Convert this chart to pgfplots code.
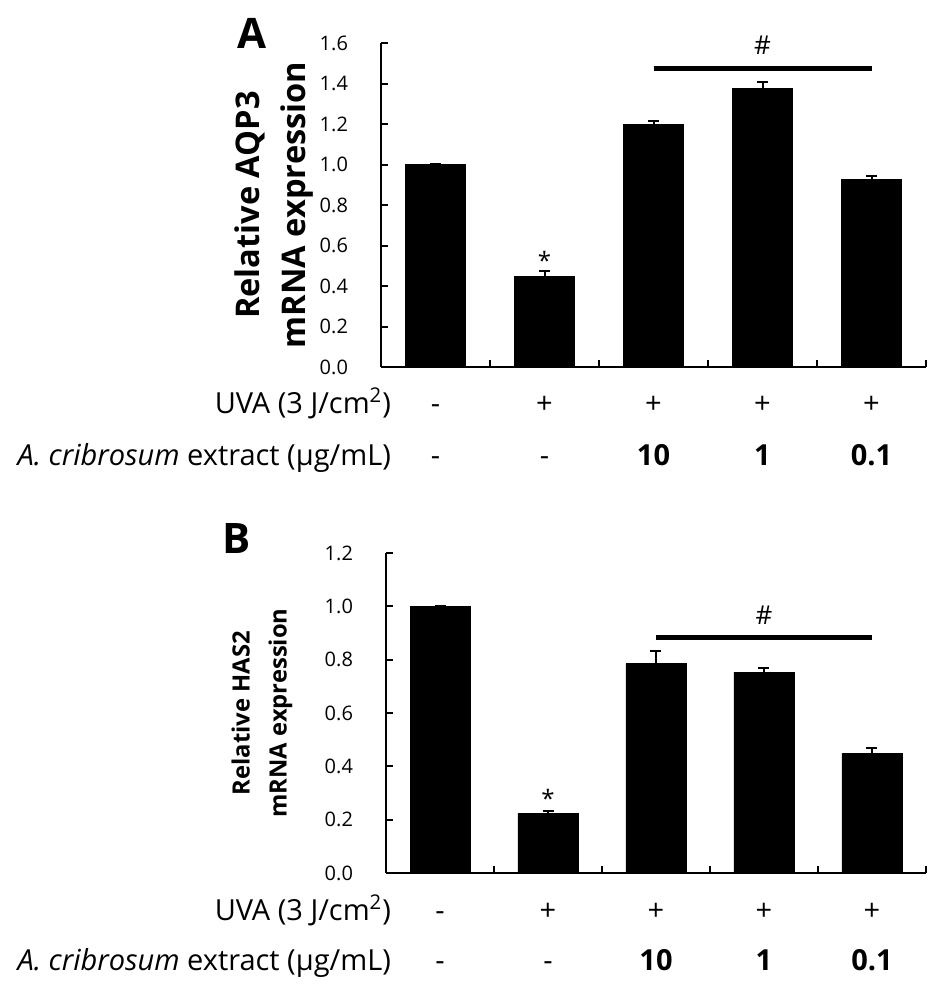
\documentclass[border=0pt]{standalone}
\usepackage{fontspec}
\setmainfont{Open Sans}
\usepackage{pgfplots}
\usepackage{pgfplotstable}
\pgfplotsset{compat=1.18}

% mean and SEM
\pgfplotstableread{
x y e
1 1.000 0.004
2 0.446 0.027
3 1.198 0.015
4 1.375 0.033
5 0.927 0.015
}\aqp
\pgfplotstableread{
x y e
1 1.000 0.003
2 0.223 0.010
3 0.785 0.048
4 0.753 0.015
5 0.448 0.022
}\has

\newcommand\rowfont{\fontsize{14.5}{16}\selectfont}
\newcommand\ticks{\fontsize{10}{11}\selectfont}

\tikzset{val/.style={anchor=base, font=\rowfont}}
\pgfplotsset{
  panel/.style={
    scale only axis,
    ybar, bar width=30pt,
    xmin=0.5, xmax=5.5, ymin=0,
    axis x line=bottom, axis y line=left,
    axis line style={-, line width=1.2pt},
    xtick={1.5,2.5,3.5,4.5,5.5}, xticklabels={},
    tick align=inside, major tick length=3.5pt,
    tick style={line width=1pt, black},
    yticklabel style={font=\ticks, xshift=-13pt},
    /pgf/number format/.cd, fixed, fixed zerofill, precision=1, assume math mode=true,
    /pgfplots/.cd,
    clip=false,
  },
  bars/.style={fill=black, draw=black,
    error bars/.cd, y dir=plus, y explicit,
    error bar style={line width=1pt, black},
    error mark options={rotate=90, mark size=2.75pt, line width=1pt, black}},
}

\begin{document}
\begin{tikzpicture}
\useasboundingbox (0,0) rectangle (471.5pt,-493.5pt);

% ---- panel A
\begin{axis}[panel, at={(190.5pt,-183.5pt)}, anchor=south west,
    width=272.5pt, height=162pt, ymax=1.6, ytick={0,0.2,...,1.6}]
  \addplot[bars] table[x=x, y=y, y error=e] {\aqp};
  \addplot[black, line width=2.25pt, forget plot, sharp plot] coordinates {(3,1.473) (5,1.473)};
  \node[font=\fontsize{13}{13}\selectfont] at (axis cs:4,1.59) {\#};
  \node[font=\fontsize{12}{12}\selectfont] at (axis cs:2,0.525) {*};
  \node[val, yshift=-23pt] at (axis cs:1,0) {-};
  \node[val, yshift=-23pt] at (axis cs:2,0) {+};
  \node[val, yshift=-23pt] at (axis cs:3,0) {+};
  \node[val, yshift=-23pt] at (axis cs:4,0) {+};
  \node[val, yshift=-23pt] at (axis cs:5,0) {+};
  \node[val, yshift=-49pt] at (axis cs:1,0) {-};
  \node[val, yshift=-49pt] at (axis cs:2,0) {-};
  \node[val, yshift=-49pt, font=\rowfont\bfseries] at (axis cs:3,0) {10};
  \node[val, yshift=-49pt, font=\rowfont\bfseries] at (axis cs:4,0) {1};
  \node[val, yshift=-49pt, font=\rowfont\bfseries] at (axis cs:5,0) {0.1};
\end{axis}

% ---- panel B
\begin{axis}[panel, at={(193pt,-436.5pt)}, anchor=south west,
    width=270pt, height=160pt, ymax=1.2, ytick={0,0.2,...,1.2}]
  \addplot[bars] table[x=x, y=y, y error=e] {\has};
  \addplot[black, line width=2.25pt, forget plot, sharp plot] coordinates {(3,0.8825) (5,0.8825)};
  \node[font=\fontsize{13}{13}\selectfont] at (axis cs:4,0.9675) {\#};
  \node[font=\fontsize{12}{12}\selectfont] at (axis cs:2,0.28) {*};
  \node[val, yshift=-23.5pt] at (axis cs:1,0) {-};
  \node[val, yshift=-23.5pt] at (axis cs:2,0) {+};
  \node[val, yshift=-23.5pt] at (axis cs:3,0) {+};
  \node[val, yshift=-23.5pt] at (axis cs:4,0) {+};
  \node[val, yshift=-23.5pt] at (axis cs:5,0) {+};
  \node[val, yshift=-48.5pt] at (axis cs:1,0) {-};
  \node[val, yshift=-48.5pt] at (axis cs:2,0) {-};
  \node[val, yshift=-48.5pt, font=\rowfont\bfseries] at (axis cs:3,0) {10};
  \node[val, yshift=-48.5pt, font=\rowfont\bfseries] at (axis cs:4,0) {1};
  \node[val, yshift=-48.5pt, font=\rowfont\bfseries] at (axis cs:5,0) {0.1};
\end{axis}

% y labels, panel letters and row captions
\node[rotate=90, align=center, font=\bfseries\fontsize{16.3}{23}\selectfont]
  at (137pt,-102.5pt) {Relative AQP3\\mRNA expression};
\node[rotate=90, align=center, font=\bfseries\fontsize{11.9}{18.5}\selectfont]
  at (131pt,-356.5pt) {Relative HAS2\\mRNA expression};
\node[anchor=base west, inner sep=0, font=\bfseries\fontsize{21}{21}\selectfont] at (118.5pt,-24pt) {A};
\node[anchor=base west, inner sep=0, font=\bfseries\fontsize{21}{21}\selectfont] at (111pt,-276.5pt) {B};
\node[anchor=base east, font=\rowfont] at (199pt,-206.5pt) {UVA (3 J/cm\textsuperscript{2})};
\node[anchor=base east, font=\rowfont] at (199pt,-232.5pt) {\textit{A. cribrosum} extract (µg/mL)};
\node[anchor=base east, font=\rowfont] at (199pt,-460pt) {UVA (3 J/cm\textsuperscript{2})};
\node[anchor=base east, font=\rowfont] at (199pt,-485pt) {\textit{A. cribrosum} extract (µg/mL)};
\end{tikzpicture}
\end{document}
